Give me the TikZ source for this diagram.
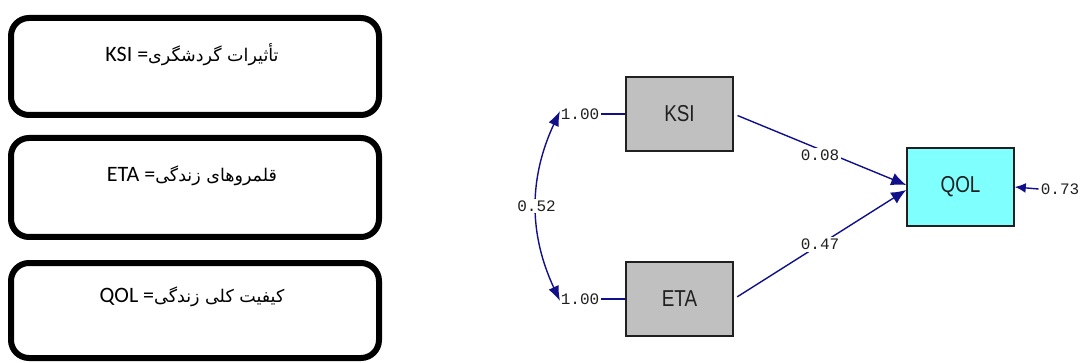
\documentclass[tikz,border=0pt]{standalone}
\usepackage{fontspec}
\usetikzlibrary{arrows.meta}
\setmainfont{Carlito}
\newfontfamily\fa[Script=Arabic]{DejaVu Sans}
\newfontfamily\lis[FakeStretch=0.82]{Liberation Sans}
\newfontfamily\mono{Liberation Mono}
\TeXXeTstate=1
\definecolor{lnavy}{HTML}{10108A}
\definecolor{lgray}{HTML}{C0C0C0}
\definecolor{lcyan}{HTML}{80FFFF}
\definecolor{ltext}{HTML}{202020}
\tikzset{
  leftbox/.style={draw=black, line width=6pt, rounded corners=18pt, minimum width=368pt, inner sep=0pt},
  lefttext/.style={inner sep=0pt, font=\fontsize{22}{26}\selectfont},
  var/.style={draw=ltext, line width=1.6pt, minimum width=107pt, minimum height=74pt, inner sep=0pt, font=\lis\fontsize{23}{26}\selectfont, text=ltext},
  num/.style={inner sep=2pt, font=\mono\fontsize{16}{18}\selectfont, text=ltext},
  numf/.style={num, fill=white},
  conn/.style={draw=lnavy, line width=1.4pt},
  arr/.style={conn, -{Latex[length=15pt,width=13pt]}},
  darr/.style={conn, {Latex[length=15pt,width=11pt]}-{Latex[length=15pt,width=11pt]}},
}
\begin{document}
\begin{tikzpicture}[x=1pt,y=-1pt]
\useasboundingbox (0,0) rectangle (1083,363);
% left legend boxes
\node[leftbox, minimum height=97pt] (b1) at (195,66.5) {};
\node[leftbox, minimum height=99pt] (b2) at (195,187.5) {};
\node[leftbox, minimum height=95pt] (b3) at (195,310.5) {};
\node[lefttext] (t1) at (192,55) {KSI =\fa\fontsize{17.5}{20}\selectfont\beginR تأثیرات گردشگری\endR};
\node[lefttext] (t2) at (192,176) {ETA =\fa\fontsize{17.5}{20}\selectfont\beginR قلمروهای زندگی\endR};
\node[lefttext] (t3) at (192,297) {QOL =\fa\fontsize{17.5}{20}\selectfont\beginR کیفیت کلی زندگی\endR};
% path diagram
\node[var, fill=lgray] (ksi) at (679.5,114) {KSI};
\node[var, fill=lgray] (eta) at (679.5,299) {ETA};
\node[var, fill=lcyan, minimum height=78pt] (qol) at (960.5,187) {QOL};
\node[num] (k1) at (580,114) {1.00};
\node[num] (e1) at (580,299) {1.00};
\node[num] (r1) at (1060,189) {0.73};
\coordinate (c1) at (560,111);
\coordinate (c2) at (560,301);
\draw[conn] (k1) -- (ksi);
\draw[conn] (e1) -- (eta);
\draw[darr] (c1) to[bend right=25] node[numf] (cv) {0.52} (c2);
\draw[arr, shorten <=4pt] (ksi.east) -- node[numf, pos=0.5, yshift=-6pt] (p1) {0.08} ([yshift=2pt]qol.west);
\draw[arr, shorten <=4pt] (eta.east) -- node[numf, pos=0.5] (p2) {0.47} ([yshift=-3pt]qol.west);
\draw[conn, -{Latex[length=11pt,width=10pt]}] (r1.west) -- (qol.east);
\end{tikzpicture}
\end{document}
